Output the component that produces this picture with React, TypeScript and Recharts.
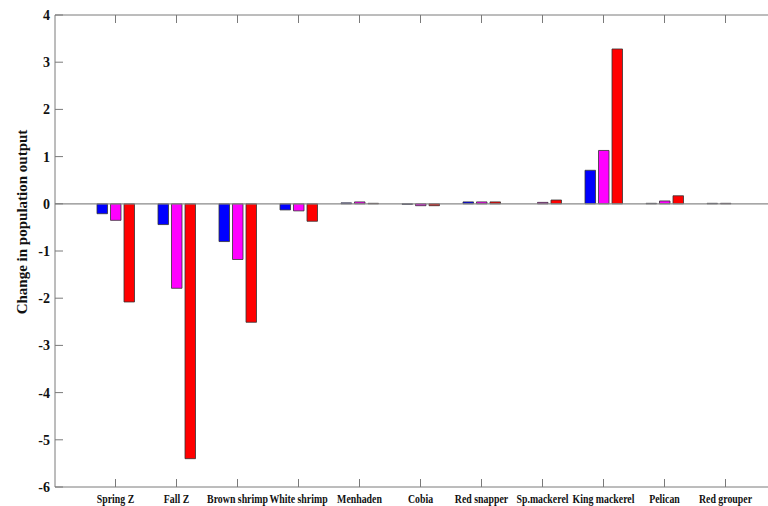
import React from 'react';
import { BarChart, Bar, XAxis, YAxis, ReferenceLine } from 'recharts';

const categories = ['Spring Z', 'Fall Z', 'Brown shrimp', 'White shrimp', 'Menhaden', 'Cobia', 'Red snapper', 'Sp.mackerel', 'King mackerel', 'Pelican', 'Red grouper'];
const seriesBlue = [-0.21, -0.44, -0.8, -0.13, 0.02, -0.01, 0.04, 0.0, 0.71, 0.01, 0.01];
const seriesMagenta = [-0.35, -1.79, -1.18, -0.15, 0.04, -0.04, 0.04, 0.03, 1.13, 0.06, 0.01];
const seriesRed = [-2.08, -5.4, -2.51, -0.37, 0.01, -0.04, 0.04, 0.08, 3.28, 0.17, 0.0];
const yTicks = [-6, -5, -4, -3, -2, -1, 0, 1, 2, 3, 4];

const data = categories.map((c, i) => ({
  name: c,
  blue: seriesBlue[i],
  magenta: seriesMagenta[i],
  red: seriesRed[i],
}));

const AXIS = '#7a7a7a';
const FONT = '"Liberation Serif", "Times New Roman", serif';

const BottomTick = (props: any) => {
  const { x, y, payload } = props;
  return (
    <g>
      <line x1={x} y1={y} x2={x} y2={y - 8} stroke={AXIS} strokeWidth={1} />
      <text
        x={0}
        y={0}
        transform={`translate(${x}, ${y + 16}) scale(0.82, 1)`}
        textAnchor="middle"
        fontFamily={FONT}
        fontWeight="bold"
        fontSize={12}
        fill="#111"
      >
        {payload.value}
      </text>
    </g>
  );
};

const TopTick = (props: any) => {
  const { x, y } = props;
  return <line x1={x} y1={y} x2={x} y2={y + 8} stroke={AXIS} strokeWidth={1} />;
};

const LeftTick = (props: any) => {
  const { x, y, payload } = props;
  return (
    <g>
      <line x1={x} y1={y} x2={x + 8} y2={y} stroke={AXIS} strokeWidth={1} />
      <text x={x - 5} y={y + 5} textAnchor="end" fontFamily={FONT} fontWeight="bold" fontSize={14} fill="#111">
        {payload.value}
      </text>
    </g>
  );
};

const YLabel = () => (
  <text
    x={0}
    y={0}
    transform="translate(27, 222) rotate(-90)"
    textAnchor="middle"
    fontFamily={FONT}
    fontWeight="bold"
    fontSize={15}
    fill="#111"
  >
    Change in population output
  </text>
);

export default function App() {
  return (
    <div style={{ position: 'absolute', left: 0, top: 0, width: 768, height: 506, overflow: 'hidden', background: '#fff' }}>
      <BarChart
        width={800}
        height={506}
        data={data}
        margin={{ top: 14, right: 14, bottom: 0, left: 0 }}
        barSize={10.5}
        barGap={3}
      >
        <XAxis
          dataKey="name"
          xAxisId="bottom"
          orientation="bottom"
          height={19}
          padding={{ left: 30, right: 30 }}
          stroke={AXIS}
          tickLine={false}
          tickSize={0}
          tickMargin={0}
          interval={0}
          tick={<BottomTick />}
        />
        <XAxis
          dataKey="name"
          xAxisId="top"
          orientation="top"
          height={1}
          padding={{ left: 30, right: 30 }}
          stroke={AXIS}
          tickLine={false}
          tickSize={0}
          tickMargin={0}
          interval={0}
          tick={<TopTick />}
        />
        <YAxis
          yAxisId="left"
          width={55}
          domain={[-6, 4]}
          ticks={yTicks}
          type="number"
          allowDataOverflow
          stroke={AXIS}
          tickLine={false}
          tickSize={0}
          tickMargin={0}
          interval={0}
          tick={<LeftTick />}
          label={{ content: () => <YLabel /> }}
        />
        <ReferenceLine xAxisId="bottom" yAxisId="left" y={0} stroke="#8a8a8a" strokeWidth={1.2} />
        <Bar xAxisId="bottom" yAxisId="left" dataKey="blue" fill="#0000ff" stroke="#333" strokeWidth={0.8} isAnimationActive={false} />
        <Bar xAxisId="bottom" yAxisId="left" dataKey="magenta" fill="#ff00ff" stroke="#333" strokeWidth={0.8} isAnimationActive={false} />
        <Bar xAxisId="bottom" yAxisId="left" dataKey="red" fill="#ff0000" stroke="#333" strokeWidth={0.8} isAnimationActive={false} />
      </BarChart>
    </div>
  );
}
